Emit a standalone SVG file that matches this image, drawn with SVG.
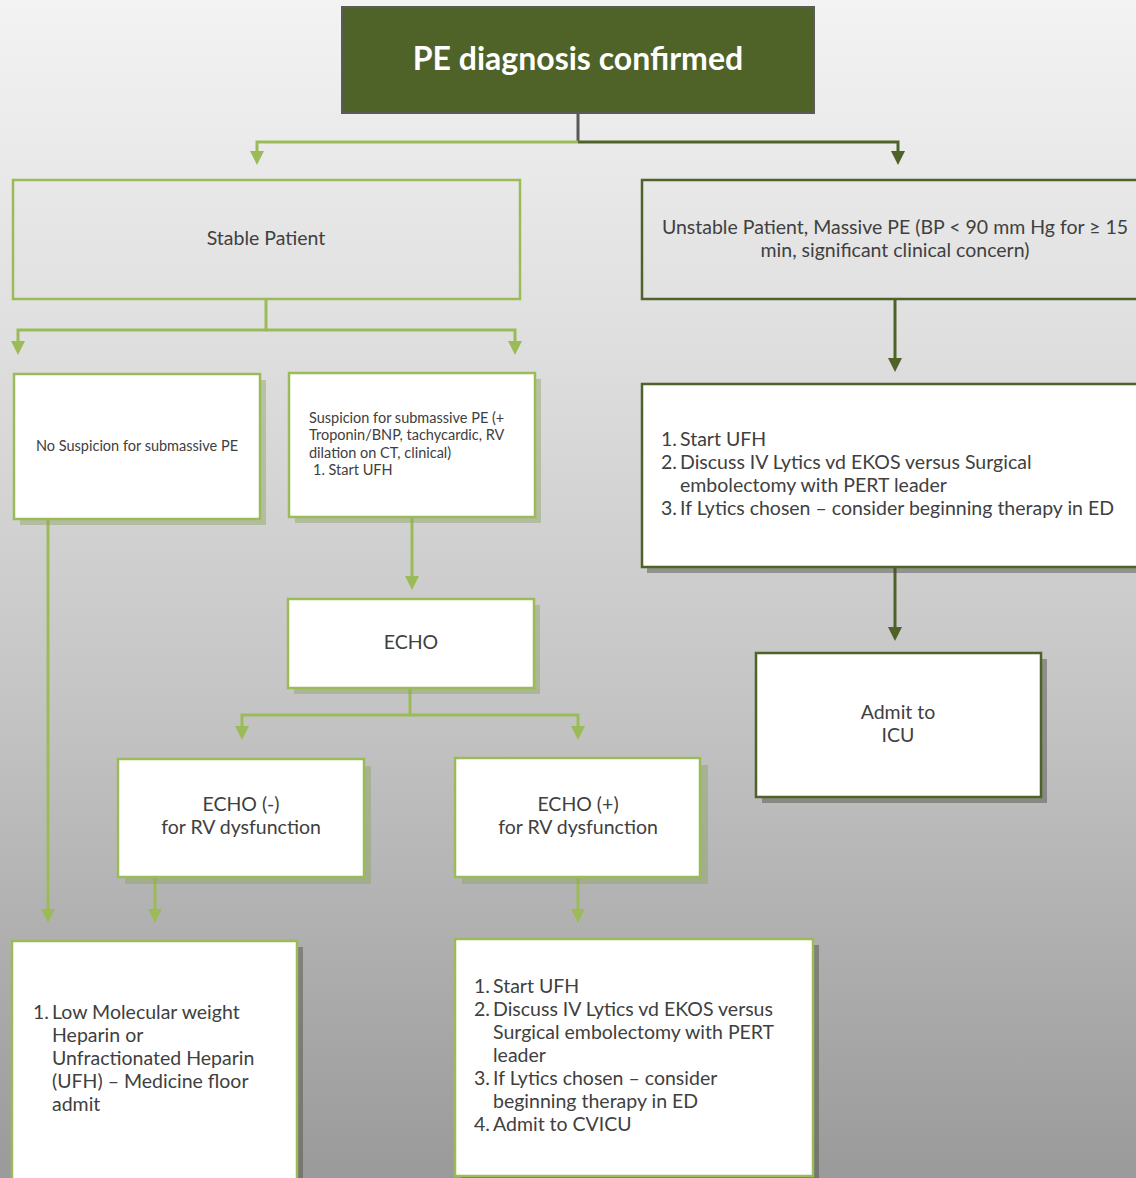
<svg xmlns="http://www.w3.org/2000/svg" width="1136" height="1178" viewBox="0 0 1136 1178">
<defs>
<linearGradient id="bg" x1="0" y1="0" x2="0" y2="1">
<stop offset="0" stop-color="#f3f3f3"/>
<stop offset="0.3" stop-color="#dedede"/>
<stop offset="0.6" stop-color="#c4c4c4"/>
<stop offset="1" stop-color="#9a9a9a"/>
</linearGradient>
</defs>
<style>
.t{font-family:Lato,"Open Sans","Liberation Sans",sans-serif;fill:#404040}
.m{font-size:19.5px}
.s{font-size:14.5px}
.lg{fill:none;stroke:#9bbb59;stroke-width:2.5}
.dg{fill:none;stroke:#4f6228;stroke-width:2.5}
.wlg{fill:#ffffff;stroke:#9bbb59;stroke-width:2.5}
.wdg{fill:#ffffff;stroke:#4f6228;stroke-width:2.5}
.shg{fill:#8fa15f;opacity:0.45}
.shd{fill:#4a4a40;opacity:0.45}
.cl{fill:none;stroke:#9bbb59;stroke-width:3}
.cd{fill:none;stroke:#4f6228;stroke-width:3}
.ahl{fill:#9bbb59}
.ahd{fill:#4f6228}
</style>
<rect x="0" y="0" width="1136" height="1178" fill="url(#bg)"/>

<g id="connectors">
<path d="M578,113 V142" fill="none" stroke="#595959" stroke-width="3"/>
<path d="M578,142 H257 V152" class="cl"/>
<path d="M250,151 H264 L257,165 Z" class="ahl"/>
<path d="M578,142 H898 V152" class="cd"/>
<path d="M891,151 H905 L898,165 Z" class="ahd"/>

<path d="M266,299 V330 H18 V342" class="cl"/>
<path d="M266,330 H515 V342" class="cl"/>
<path d="M11,341 H25 L18,355 Z" class="ahl"/>
<path d="M508,341 H522 L515,355 Z" class="ahl"/>

<path d="M412,517 V578" class="cl"/>
<path d="M405,576 H419 L412,590 Z" class="ahl"/>

<path d="M410,688 V715 H242 V727" class="cl"/>
<path d="M410,715 H578 V727" class="cl"/>
<path d="M235,726 H249 L242,740 Z" class="ahl"/>
<path d="M571,726 H585 L578,740 Z" class="ahl"/>

<path d="M48,519 V911" class="cl"/>
<path d="M41,909 H55 L48,923 Z" class="ahl"/>
<path d="M155,877 V911" class="cl"/>
<path d="M148,909 H162 L155,923 Z" class="ahl"/>
<path d="M578,877 V911" class="cl"/>
<path d="M571,909 H585 L578,923 Z" class="ahl"/>

<path d="M895,299 V360" class="cd"/>
<path d="M888,358 H902 L895,372 Z" class="ahd"/>
<path d="M895,567 V629" class="cd"/>
<path d="M888,627 H902 L895,641 Z" class="ahd"/>
</g>

<g id="title">
<rect x="342" y="7" width="472" height="106" fill="#4f6228" stroke="#5a5a5a" stroke-width="2"/>
<text x="578" y="70" text-anchor="middle" font-family="Lato,'Open Sans','Liberation Sans',sans-serif" font-size="32" font-weight="bold" fill="#ffffff">PE diagnosis confirmed</text>
</g>

<g id="stable">
<rect x="13" y="180" width="507" height="119" class="lg"/>
<text x="266" y="245" text-anchor="middle" class="t m">Stable Patient</text>
</g>

<g id="unstable">
<rect x="642" y="180" width="500" height="119" class="dg"/>
<text x="895" y="234" text-anchor="middle" class="t m">Unstable Patient, Massive PE (BP &lt; 90 mm Hg for ≥ 15</text>
<text x="895" y="257" text-anchor="middle" class="t m">min, significant clinical concern)</text>
</g>

<g id="no-suspicion">
<rect x="20" y="380" width="246" height="145" class="shg"/>
<rect x="14" y="374" width="246" height="145" class="wlg"/>
<text x="137" y="451" text-anchor="middle" class="t s">No Suspicion for submassive PE</text>
</g>

<g id="suspicion">
<rect x="295" y="379" width="246" height="144" class="shg"/>
<rect x="289" y="373" width="246" height="144" class="wlg"/>
<text class="t s">
<tspan x="309" y="423">Suspicion for submassive PE (+</tspan>
<tspan x="309" y="440">Troponin/BNP, tachycardic, RV</tspan>
<tspan x="309" y="458">dilation on CT, clinical)</tspan>
<tspan x="313" y="475">1. Start UFH</tspan>
</text>
</g>

<g id="echo">
<rect x="294" y="605" width="246" height="89" class="shg"/>
<rect x="288" y="599" width="246" height="89" class="wlg"/>
<text x="411" y="649" text-anchor="middle" class="t m">ECHO</text>
</g>

<g id="echo-neg">
<rect x="125" y="766" width="246" height="118" class="shg"/>
<rect x="118" y="759" width="246" height="118" class="wlg"/>
<text x="241" y="811" text-anchor="middle" class="t m">ECHO (-)</text>
<text x="241" y="834" text-anchor="middle" class="t m">for RV dysfunction</text>
</g>

<g id="echo-pos">
<rect x="462" y="765" width="246" height="119" class="shg"/>
<rect x="455" y="758" width="245" height="119" class="wlg"/>
<text x="578" y="811" text-anchor="middle" class="t m">ECHO (+)</text>
<text x="578" y="834" text-anchor="middle" class="t m">for RV dysfunction</text>
</g>

<g id="lmwh">
<rect x="18" y="947" width="285" height="240" class="shd"/>
<rect x="12" y="941" width="285" height="245" class="wlg"/>
<text class="t m">
<tspan x="33" y="1019">1.</tspan><tspan x="52" y="1019">Low Molecular weight</tspan>
<tspan x="52" y="1042">Heparin or</tspan>
<tspan x="52" y="1065">Unfractionated Heparin</tspan>
<tspan x="52" y="1088">(UFH) – Medicine floor</tspan>
<tspan x="52" y="1111">admit</tspan>
</text>
</g>

<g id="cvicu">
<rect x="461" y="945" width="358" height="240" class="shd"/>
<rect x="455" y="939" width="358" height="237" class="wlg"/>
<text class="t m">
<tspan x="474" y="993">1.</tspan><tspan x="493" y="993">Start UFH</tspan>
<tspan x="474" y="1016">2.</tspan><tspan x="493" y="1016">Discuss IV Lytics vd EKOS versus</tspan>
<tspan x="493" y="1039">Surgical embolectomy with PERT</tspan>
<tspan x="493" y="1062">leader</tspan>
<tspan x="474" y="1085">3.</tspan><tspan x="493" y="1085">If Lytics chosen – consider</tspan>
<tspan x="493" y="1108">beginning therapy in ED</tspan>
<tspan x="474" y="1131">4.</tspan><tspan x="493" y="1131">Admit to CVICU</tspan>
</text>
</g>

<g id="massive-steps">
<rect x="647" y="390" width="500" height="183" class="shd"/>
<rect x="642" y="384" width="500" height="183" class="wdg"/>
<text class="t m">
<tspan x="661" y="446">1.</tspan><tspan x="680" y="446">Start UFH</tspan>
<tspan x="661" y="469">2.</tspan><tspan x="680" y="469">Discuss IV Lytics vd EKOS versus Surgical</tspan>
<tspan x="680" y="492">embolectomy with PERT leader</tspan>
<tspan x="661" y="515">3.</tspan><tspan x="680" y="515">If Lytics chosen – consider beginning therapy in ED</tspan>
</text>
</g>

<g id="icu">
<rect x="762" y="659" width="285" height="144" class="shd"/>
<rect x="756" y="653" width="285" height="144" class="wdg"/>
<text x="898" y="719" text-anchor="middle" class="t m">Admit to</text>
<text x="898" y="742" text-anchor="middle" class="t m">ICU</text>
</g>
</svg>
